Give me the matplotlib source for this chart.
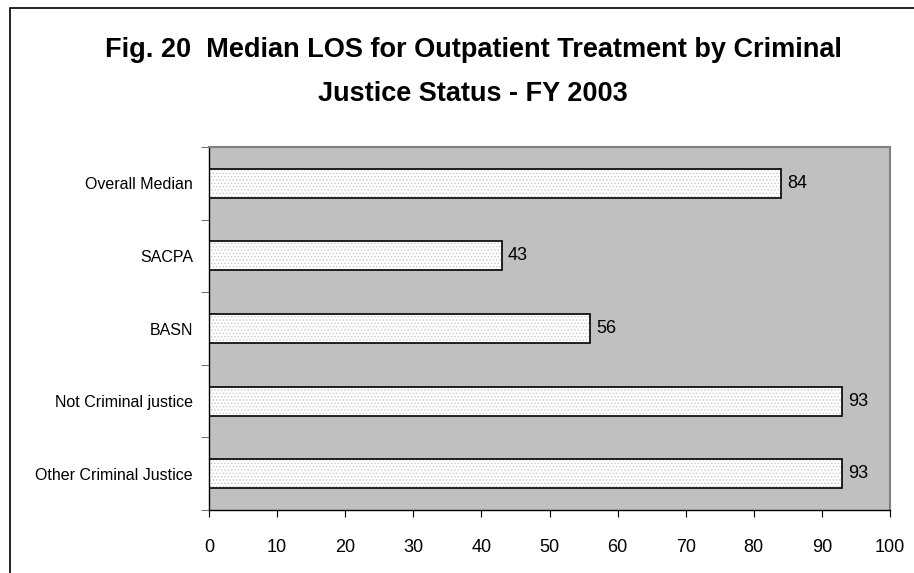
import matplotlib
matplotlib.use('Agg')
import matplotlib.pyplot as plt
from matplotlib.patches import Rectangle
import numpy as np

plt.rcParams['font.family'] = ['Liberation Sans Narrow', 'Liberation Sans', 'DejaVu Sans']
plt.rcParams['hatch.linewidth'] = 0.6

categories = ['Overall Median', 'SACPA', 'BASN', 'Not Criminal justice', 'Other Criminal Justice']
values = [84, 43, 56, 93, 93]
xticks = [0, 10, 20, 30, 40, 50, 60, 70, 80, 90, 100]
title_lines = ['Fig. 20  Median LOS for Outpatient Treatment by Criminal',
               'Justice Status - FY 2003']

fig = plt.figure(figsize=(9.14, 5.73), dpi=100)

# outer chart frame
fig.patches.append(Rectangle((10 / 914, -0.05), 1.1, 1 - 8 / 573 + 0.05,
                             transform=fig.transFigure, fill=False,
                             edgecolor='black', linewidth=1.2))

ax = fig.add_axes([209 / 914, 1 - 510 / 573, (890 - 209) / 914, (510 - 147) / 573])
ax.set_facecolor('#c0c0c0')

y = np.arange(len(categories))
# dotted fill, then the black outline on top
ax.barh(y, values, height=0.4, color='white', edgecolor='#c8c8c8',
        hatch='.....', linewidth=0, zorder=2)
ax.barh(y, values, height=0.4, fill=False, edgecolor='black',
        linewidth=1.2, zorder=3)

for yi, v in zip(y, values):
    ax.text(v + 0.9, yi, str(v), va='center', ha='left', fontsize=13)

ax.set_xlim(0, 100)
ax.set_ylim(len(categories) - 0.5, -0.5)
ax.set_xticks(xticks)
ax.set_xticklabels([str(t) for t in xticks], fontsize=13)
ax.set_yticks(y)
ax.set_yticklabels(categories, fontsize=11.5)
ax.set_yticks(np.arange(-0.5, len(categories)), minor=True)
ax.tick_params(axis='y', which='major', length=0, pad=11.5)
ax.tick_params(axis='y', which='minor', length=6, direction='out', color='#555555')
ax.tick_params(axis='x', length=5, direction='out', pad=16)

for s in ['left', 'bottom']:
    ax.spines[s].set_color('black')
    ax.spines[s].set_linewidth(1.0)
for s in ['top', 'right']:
    ax.spines[s].set_color('#808080')
    ax.spines[s].set_linewidth(1.5)

for line, ypix in zip(title_lines, [50, 94]):
    fig.text(473 / 914, 1 - ypix / 573, line, ha='center', va='center',
             fontsize=19.5, fontweight='bold')

fig.savefig('out.png', dpi=100)
